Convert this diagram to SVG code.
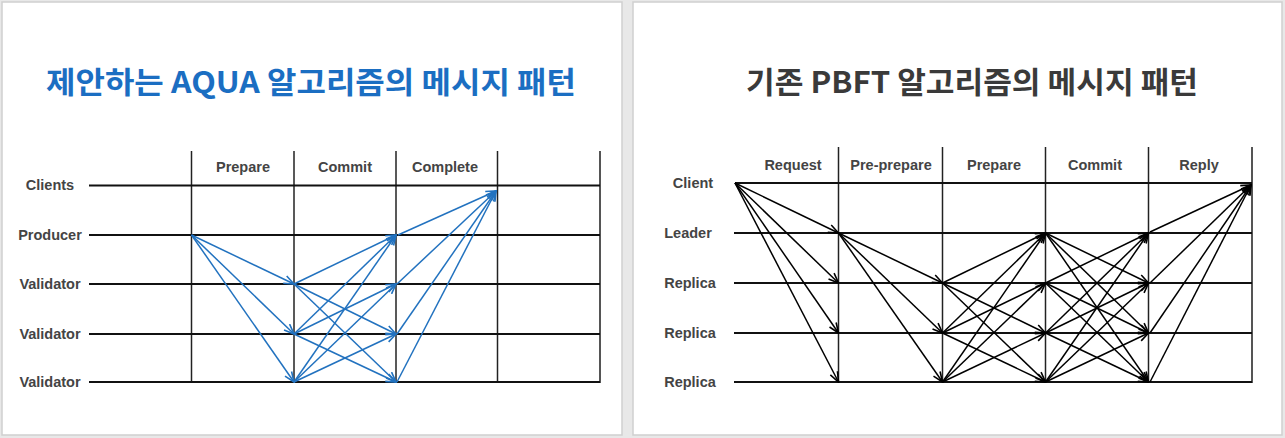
<svg xmlns="http://www.w3.org/2000/svg" width="1285" height="438" viewBox="0 0 1285 438">
<style>
.panel{fill:#fff;stroke:#cfcfcf;stroke-width:1.5}
.title{font-family:"Noto Sans CJK KR","Liberation Sans",sans-serif;font-weight:700;font-size:30px;text-anchor:middle}
.lbl{font-family:"Liberation Sans",Arial,sans-serif;font-weight:700;font-size:14.5px;fill:#444;text-anchor:middle}
.hl{stroke:#111;stroke-width:2;fill:none}
.vl{stroke:#222;stroke-width:1.5;fill:none}
.vb{stroke:#555;stroke-width:2;fill:none}
.ab{stroke:#2272bf;stroke-width:1.5;fill:none;marker-end:url(#mb)}
.ak{stroke:#000;stroke-width:1.5;fill:none;marker-end:url(#mk)}
</style>
<defs>
<marker id="mb" viewBox="0 0 12 10" refX="11" refY="5" markerWidth="12" markerHeight="10" markerUnits="userSpaceOnUse" orient="auto"><path d="M1,1 L11,5 L1,9" fill="none" stroke="#2272bf" stroke-width="1.6"/></marker>
<marker id="mk" viewBox="0 0 12 10" refX="11" refY="5" markerWidth="12" markerHeight="10" markerUnits="userSpaceOnUse" orient="auto"><path d="M1,1 L11,5 L1,9" fill="none" stroke="#000" stroke-width="1.6"/></marker>
</defs>
<rect width="1285" height="438" fill="#e8e8e8"/>
<rect class="panel" x="2" y="2" width="620" height="433"/>
<rect class="panel" x="633" y="2" width="649" height="433"/>

<!-- LEFT PANEL -->
<text class="title" x="311" y="93" fill="#1b6ec2" textLength="530" lengthAdjust="spacingAndGlyphs">제안하는 AQUA 알고리즘의 메시지 패턴</text>
<g id="left-grid">
<line class="vl" x1="191.5" y1="151" x2="191.5" y2="382"/>
<line class="vl" x1="294" y1="151" x2="294" y2="382"/>
<line class="vl" x1="396" y1="151" x2="396" y2="382"/>
<line class="vl" x1="497.5" y1="151" x2="497.5" y2="382"/>
<line class="vb" x1="600" y1="151" x2="600" y2="383"/>
<text class="lbl" x="243" y="172">Prepare</text>
<text class="lbl" x="345" y="172">Commit</text>
<text class="lbl" x="445" y="172">Complete</text>
</g>
<g id="l-clients"><text class="lbl" x="50" y="190">Clients</text><line class="hl" x1="89" y1="185.5" x2="600" y2="185.5"/></g>
<g id="l-producer"><text class="lbl" x="50" y="240">Producer</text><line class="hl" x1="89" y1="235" x2="600" y2="235"/></g>
<g id="l-validator1"><text class="lbl" x="50" y="289">Validator</text><line class="hl" x1="89" y1="284" x2="600" y2="284"/></g>
<g id="l-validator2"><text class="lbl" x="50" y="339">Validator</text><line class="hl" x1="89" y1="334" x2="600" y2="334"/></g>
<g id="l-validator3"><text class="lbl" x="50" y="387">Validator</text><line class="hl" x1="89" y1="382" x2="600" y2="382"/></g>

<!-- RIGHT PANEL -->
<text class="title" x="972" y="93" fill="#3a3a3a" textLength="452" lengthAdjust="spacingAndGlyphs">기존 PBFT 알고리즘의 메시지 패턴</text>
<g id="right-grid">
<line class="vl" x1="838.5" y1="147" x2="838.5" y2="382"/>
<line class="vl" x1="942.5" y1="147" x2="942.5" y2="382"/>
<line class="vl" x1="1045.5" y1="147" x2="1045.5" y2="382"/>
<line class="vl" x1="1148.5" y1="147" x2="1148.5" y2="382"/>
<line class="vb" x1="1252" y1="147" x2="1252" y2="383"/>
<text class="lbl" x="793" y="170">Request</text>
<text class="lbl" x="891" y="170">Pre-prepare</text>
<text class="lbl" x="994" y="170">Prepare</text>
<text class="lbl" x="1095" y="170">Commit</text>
<text class="lbl" x="1199" y="170">Reply</text>
</g>
<g id="r-client"><text class="lbl" x="693" y="188">Client</text><line class="hl" x1="735" y1="183" x2="1252" y2="183"/></g>
<g id="r-leader"><text class="lbl" x="688" y="238">Leader</text><line class="hl" x1="734" y1="233" x2="1252" y2="233"/></g>
<g id="r-replica1"><text class="lbl" x="690" y="288">Replica</text><line class="hl" x1="734" y1="283" x2="1252" y2="283"/></g>
<g id="r-replica2"><text class="lbl" x="690" y="338">Replica</text><line class="hl" x1="734" y1="333" x2="1252" y2="333"/></g>
<g id="r-replica3"><text class="lbl" x="690" y="387">Replica</text><line class="hl" x1="734" y1="382" x2="1252" y2="382"/></g>

<g id="connectors">
<!-- left: prepare -->
<path class="ab" d="M191.5,235 L294,284"/>
<path class="ab" d="M191.5,235 L294,334"/>
<path class="ab" d="M191.5,235 L294,382"/>
<!-- left: commit -->
<path class="ab" d="M294,284 L396,235"/>
<path class="ab" d="M294,284 L396,334"/>
<path class="ab" d="M294,284 L396,382"/>
<path class="ab" d="M294,334 L396,235"/>
<path class="ab" d="M294,334 L396,284"/>
<path class="ab" d="M294,334 L396,382"/>
<path class="ab" d="M294,382 L396,235"/>
<path class="ab" d="M294,382 L396,284"/>
<path class="ab" d="M294,382 L396,334"/>
<!-- left: complete -->
<path class="ab" d="M398,235 L496,191"/>
<path class="ab" d="M397,284 L496,191"/>
<path class="ab" d="M397,334 L496,191"/>
<path class="ab" d="M397,382 L496,191"/>
<!-- right: request -->
<path class="ak" d="M735,183 L838.5,233"/>
<path class="ak" d="M735,183 L838.5,283"/>
<path class="ak" d="M735,183 L838.5,333"/>
<path class="ak" d="M735,183 L838.5,382"/>
<!-- right: pre-prepare -->
<path class="ak" d="M838.5,233 L942.5,283"/>
<path class="ak" d="M838.5,233 L942.5,333"/>
<path class="ak" d="M838.5,233 L942.5,382"/>
<!-- right: prepare -->
<path class="ak" d="M942.5,283 L1045.5,233"/>
<path class="ak" d="M942.5,283 L1045.5,333"/>
<path class="ak" d="M942.5,283 L1045.5,382"/>
<path class="ak" d="M942.5,333 L1045.5,233"/>
<path class="ak" d="M942.5,333 L1045.5,283"/>
<path class="ak" d="M942.5,333 L1045.5,382"/>
<path class="ak" d="M942.5,382 L1045.5,233"/>
<path class="ak" d="M942.5,382 L1045.5,283"/>
<path class="ak" d="M942.5,382 L1045.5,333"/>
<!-- right: commit -->
<path class="ak" d="M1045.5,233 L1148.5,283"/>
<path class="ak" d="M1045.5,233 L1148.5,333"/>
<path class="ak" d="M1045.5,233 L1148.5,382"/>
<path class="ak" d="M1045.5,283 L1148.5,233"/>
<path class="ak" d="M1045.5,283 L1148.5,333"/>
<path class="ak" d="M1045.5,283 L1148.5,382"/>
<path class="ak" d="M1045.5,333 L1148.5,233"/>
<path class="ak" d="M1045.5,333 L1148.5,283"/>
<path class="ak" d="M1045.5,333 L1148.5,382"/>
<path class="ak" d="M1045.5,382 L1148.5,233"/>
<path class="ak" d="M1045.5,382 L1148.5,283"/>
<path class="ak" d="M1045.5,382 L1148.5,333"/>
<!-- right: reply -->
<path class="ak" d="M1150,232 L1251,185"/>
<path class="ak" d="M1150,283 L1251,185"/>
<path class="ak" d="M1150,333 L1251,185"/>
<path class="ak" d="M1150,382 L1251,185"/>
</g>
</svg>
